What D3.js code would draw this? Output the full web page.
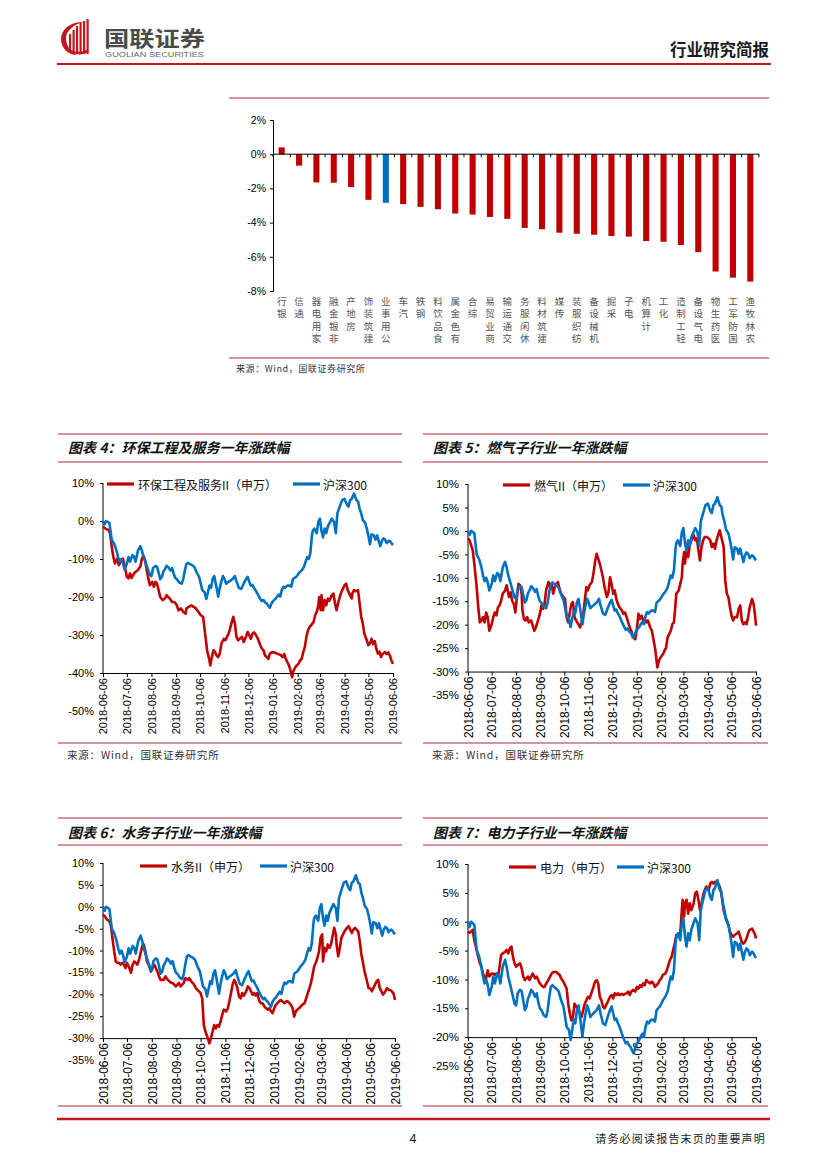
<!DOCTYPE html>
<html><head><meta charset="utf-8">
<script src="https://cdn.jsdelivr.net/npm/d3@7"></script>
<style>body{margin:0;background:#fff}svg{display:block}</style>
</head><body>
<svg id="page" width="827" height="1169"></svg>
<script>
// ---------------- DATA ----------------
const barCategories = ['银行','通信','家用电器','非银金融','房地产','建筑装饰','公用事业','汽车','钢铁','食品饮料','有色金属','综合','商业贸易','交通运输','休闲服务','建筑材料','传媒','纺织服装','机械设备','采掘','电子','计算机','化工','轻工制造','电气设备','医药生物','国防军工','农林牧渔'];
const barValues = [0.4,-0.67,-1.65,-1.67,-1.92,-2.67,-2.84,-2.92,-3.08,-3.22,-3.47,-3.53,-3.67,-3.78,-4.31,-4.39,-4.59,-4.65,-4.71,-4.78,-4.82,-5.08,-5.12,-5.31,-5.73,-6.86,-7.22,-7.45];
const barHighlight = '公用事业';
const barTicks = [2,0,-2,-4,-6,-8];

const monthTicks = ['2018-06-06','2018-07-06','2018-08-06','2018-09-06','2018-10-06','2018-11-06','2018-12-06','2019-01-06','2019-02-06','2019-03-06','2019-04-06','2019-05-06','2019-06-06'];
const startDate = '2018-06-06';

// days since 2018-06-06 / value in %
const hs300Days = [0,2,4,8,11,14,17,19,21,23,
25,27,30,32,34,37,39,41,44,47,
49,51,54,57,59,61,63,66,68,70,
72,74,76,78,80,82,85,87,89,91,
93,96,99,101,103,105,107,109,112,115,
118,121,125,128,130,132,134,136,138,140,
143,145,147,149,151,153,155,158,161,163,
166,168,171,174,177,180,182,184,186,188,
190,192,195,198,200,202,204,206,208,210,
212,214,217,219,221,223,225,227,229,232,
235,237,239,241,243,245,247,250,253,255,
257,259,261,263,264,266,269,271,273,275,
277,279,281,283,288,291,293,295,298,301,
304,307,309,311,313,316,319,321,323,325,
327,330,332,334,336,338,341,343,345,347,
349,351,353,355,357,360,362,364,365];
const hs300Values = [0,-0.9,0,-0.5,-5,-6,-7.8,-9.5,-10.7,-10,
-11,-12.7,-11.3,-9.5,-10.7,-9,-9.3,-10.7,-7.8,-6.6,
-7.8,-9.5,-11.2,-13,-14.2,-14.5,-12.4,-11.8,-12,-13.6,
-15.3,-14.8,-13.3,-12.7,-11.8,-12.1,-13,-12.4,-13.9,-15,
-15.3,-16.2,-16.5,-15.3,-13,-11.3,-11,-11.3,-11.6,-12.1,
-13.6,-14.7,-18.2,-18.8,-20.5,-18.8,-17,-17.6,-15.3,-14.5,
-17.6,-19.9,-17.6,-15.9,-14.5,-15.3,-16.5,-16,-15.6,-15.3,
-14.5,-15.9,-17.6,-17.9,-16.5,-15.3,-14.7,-15.9,-17,-16.8,
-17.6,-18.2,-19.4,-20.5,-21.1,-20.8,-21.4,-21.7,-22.3,-22.8,
-21.7,-21.1,-20.5,-19.9,-19.4,-19.9,-18.2,-17.3,-17.6,-17,
-17,-17.3,-15.3,-15,-14.7,-14.2,-13.6,-13,-12.1,-10.7,
-9.5,-10,-8.4,-3.8,-2.6,-2,-3.2,-0.3,0.6,-2.6,
-4.3,-2,-3.2,-1.4,0.6,-0.3,-3.2,2,3.8,5.5,
5.8,4.3,3.8,5.5,5.8,7.2,5.5,5.2,3.2,2,
0.3,-0.5,-2,-3.8,-6.1,-3.5,-3.8,-4.9,-3.8,-5.2,
-6.6,-5.2,-4.6,-4.9,-5.8,-5.2,-5.5,-6.1,-6.3];

const envDays = [0,3,7,9,11,13,15,18,20,22,
25,27,30,32,34,36,39,41,44,47,
49,51,53,55,57,59,62,64,66,68,
70,72,75,78,80,84,87,90,93,95,
98,101,104,105,108,111,114,117,120,123,
126,127,129,131,134,135,137,139,141,143,
145,147,149,152,154,156,158,160,162,164,
166,168,170,172,175,177,180,182,184,186,
188,190,193,195,198,200,202,204,206,208,
210,213,216,219,223,226,228,230,232,234,
236,238,239,242,244,246,248,250,252,254,
256,258,260,262,265,267,269,271,272,274,
275,277,279,281,283,285,288,290,292,294,
296,298,300,302,304,306,308,311,313,314,
316,318,321,323,325,327,329,332,334,336,
338,340,342,344,346,348,350,352,355,357,
359,361,363,365];
const envValues = [-1.5,-2,-2.4,-3.3,-6.8,-9.4,-11.2,-9.9,-11.6,-10.7,
-9.9,-11.5,-14.7,-15.1,-13.8,-15,-13.8,-13.4,-12.9,-12,
-9.9,-9.2,-10.3,-12.9,-15.1,-16.9,-16,-17.3,-16,-16.5,
-18.2,-20,-20.8,-20.4,-19.5,-20.4,-21.3,-21.3,-22.2,-23.5,
-23,-23.9,-24.4,-23,-22.6,-22.2,-22.6,-23,-23.9,-24.8,
-25.2,-27,-30.5,-34,-36.7,-38,-35.8,-34,-34.5,-35.4,
-35.8,-34.9,-32.3,-31,-31.4,-30.5,-29.7,-28.3,-26.6,-25.2,
-27,-30.5,-31.4,-31,-30.5,-31.8,-30.5,-29.2,-30,-31,
-29.7,-29.3,-30.2,-31,-32.7,-33.6,-34,-35.4,-35.8,-36.3,
-34.9,-34.5,-34.6,-34.9,-35.2,-35.8,-35,-36.3,-37.1,-38,
-39.3,-41.1,-39.8,-38.5,-38,-37.6,-36.7,-36.3,-34.5,-33.2,
-30.5,-28.8,-27.9,-27.4,-26.6,-24.8,-23.9,-22.2,-20,-23.5,
-19.5,-23.5,-20.8,-22.2,-20.4,-21,-19.5,-19.1,-21.7,-23.5,
-21.5,-20,-18.7,-17.8,-16.9,-16.5,-18.2,-19.5,-20.4,-19,
-18.2,-18.5,-18.2,-21.7,-25.2,-27,-29.7,-31.4,-32.7,-32.2,
-31,-32.4,-31.6,-33.6,-34.9,-34.4,-35.8,-35,-34.5,-35,
-34.6,-35.4,-36.7,-37.6];

const gasDays = [0,2,4,6,8,11,13,15,17,19,
21,23,25,27,30,32,34,36,38,40,
42,44,47,49,52,54,56,58,60,62,
64,66,68,69,71,73,75,77,80,82,
84,86,88,90,92,93,95,97,99,102,
104,106,108,110,112,114,116,118,121,123,
125,127,129,131,133,135,137,140,142,144,
146,148,150,152,154,157,159,161,163,165,
167,169,171,173,176,178,180,182,184,186,
188,190,192,195,197,199,201,203,205,207,
209,212,214,216,218,220,222,224,226,228,
231,233,235,237,239,240,242,244,247,249,
251,253,255,257,259,261,263,264,267,269,
271,272,274,275,277,279,281,283,286,288,
290,292,294,296,298,300,302,305,307,309,
311,313,315,317,319,321,324,326,328,330,
332,334,336,338,341,343,345,347,349,351,
353,355,357,360,362,364,365];
const gasValues = [-1.6,-2,-3.1,-4.1,-7,-12,-16.3,-19.5,-19.1,-18.4,
-19.5,-17.4,-18.4,-21.3,-19.9,-18.4,-17.4,-18,-16.3,-15.9,
-14.9,-13.4,-12.7,-11.6,-14.1,-13.1,-14.9,-15.6,-17.4,-14.1,
-11.3,-11.6,-13.4,-17,-18.8,-19.1,-18.4,-19.5,-19.1,-20.2,
-21.3,-20.6,-19.5,-18.4,-17,-15.9,-16.6,-15.6,-12.7,-10.9,
-12,-11.3,-13.4,-12,-11.3,-10.9,-12.4,-13.4,-14.1,-14.5,
-18.4,-19.5,-17.4,-15.6,-15.2,-18.4,-19.1,-19.9,-20.6,-19.5,
-17.7,-14.9,-12,-12.7,-11.6,-10.9,-9.1,-6.6,-4.9,-5.9,
-7,-8.4,-9.9,-12,-14.1,-13.1,-9.9,-11.3,-13.4,-12.7,
-14.5,-15.6,-16.3,-17,-17.7,-17.4,-18.4,-19.5,-20.6,-21.3,
-22.7,-23.1,-20.9,-17.7,-18.8,-18.1,-19.1,-18.8,-19.5,-19.1,
-20.6,-21.3,-23.1,-24.9,-27.7,-29.1,-27.7,-27,-26.3,-25.6,
-24.9,-22.7,-22,-21.3,-19.9,-19.5,-15.6,-13.4,-12.7,-11.3,
-9.9,-7,-4.5,-7,-3.4,-5.6,-3.1,-2,-0.9,-2,
-1.6,-4.1,-6.3,-3.4,-2,-1.3,-1.3,-1.6,-2,-3.4,
-2.7,-3.8,-2,-0.9,0.1,-1.3,-3.4,-10.6,-13.4,-14.1,
-16.3,-18.1,-19.1,-18.4,-18.4,-16.6,-15.9,-19.1,-19.9,-19.5,
-19.9,-18.4,-16.3,-14.5,-15.6,-18.4,-20.2];

const waterDays = [0,2,5,8,10,12,14,16,18,20,
22,24,26,28,30,33,35,37,39,41,
43,45,47,49,51,53,55,58,60,62,
64,66,68,70,72,74,76,78,81,83,
85,87,89,91,93,95,97,99,101,103,
106,108,110,112,114,116,118,120,122,124,
125,126,128,131,133,135,137,139,141,143,
145,147,149,151,154,156,158,160,162,164,
166,168,170,172,174,176,179,181,183,185,
187,189,191,193,195,197,199,202,204,206,
208,210,212,214,216,218,220,222,224,227,
229,231,233,235,237,239,241,243,245,247,
249,252,254,256,258,260,262,264,266,268,
270,272,274,275,277,279,281,283,285,287,
289,291,292,294,296,298,300,302,305,307,
309,311,313,315,317,319,321,323,325,327,
330,332,334,336,338,340,342,344,346,348,
350,353,355,357,359,361,363,365];
const waterValues = [-1.8,-2.1,-2.9,-3.3,-4.4,-7.5,-10.2,-12.5,-12.8,-12.8,
-13.2,-12.8,-13.2,-14,-12.8,-14,-15.1,-13.2,-12.5,-12.8,
-13.2,-12.1,-10.6,-9,-8.6,-10.2,-12.5,-13.6,-14.8,-14,
-13.2,-14,-14.8,-15.9,-16.7,-16.7,-16.7,-15.9,-16.7,-17,
-17.4,-17.4,-17.8,-18.2,-17.8,-17.4,-18.2,-17.8,-17.4,-16.3,
-16.7,-16.3,-17,-17.4,-17.8,-18.6,-19,-19.3,-19.7,-20.9,
-23.9,-27,-28.5,-30,-31.2,-30,-28.5,-27,-27.8,-27,
-27.4,-26.2,-24.7,-23.5,-23.9,-23.2,-21.6,-19.7,-17.8,-16.7,
-17.4,-18.6,-20.5,-20.9,-19.7,-20.3,-19.3,-18.2,-18.6,-19.3,
-20.1,-19.7,-20.3,-19.7,-21.3,-22,-22,-22.8,-23.2,-23.5,
-23.2,-23.9,-24.3,-23.2,-22.4,-22,-21.6,-21.3,-21.6,-22,
-21.6,-21.6,-22,-22.4,-23.2,-25.1,-23.9,-23.5,-23.2,-22.8,
-22.4,-22,-20.9,-19.7,-18.6,-17.4,-15.5,-13.6,-12.8,-11.7,
-10.2,-7.1,-6.3,-12.5,-9.4,-10.2,-8.6,-9.4,-8.6,-6.7,
-4.8,-6.3,-8.6,-11.3,-9.4,-7.1,-6.3,-5.6,-4.8,-4.4,
-5.2,-6,-5.2,-4.8,-5.2,-5.6,-7.9,-10.9,-12.8,-14.8,
-17,-18.6,-18.6,-19.3,-18.6,-17.8,-17,-16.7,-18.6,-19.3,
-20.1,-19.3,-18.6,-19,-19,-19.3,-19.7,-21.3];

const powerDays = [0,2,4,6,8,11,13,15,17,19,
21,23,25,27,30,32,34,36,38,40,
42,44,47,49,51,53,55,57,59,61,
63,66,68,70,72,74,76,78,80,82,
85,87,89,91,93,95,97,99,102,104,
106,108,110,112,114,116,118,121,123,125,
127,129,131,133,135,137,140,142,144,146,
148,150,152,154,157,159,161,163,165,167,
169,171,173,176,178,180,182,184,186,188,
190,192,195,197,199,201,203,205,207,209,
212,214,216,218,220,222,224,226,228,231,
233,235,237,239,241,243,245,247,250,252,
254,256,258,260,262,264,267,269,271,272,
274,275,277,279,281,283,286,288,290,292,
294,296,298,300,302,305,307,309,311,313,
315,317,319,321,324,326,328,330,332,334,
336,338,341,343,345,347,349,351,353,355,
357,360,362,364,365];
const powerValues = [-1.7,-1.9,-1.7,-1.4,-3.2,-4.9,-6.1,-7.2,-7.8,-9,
-9.5,-9.8,-8.4,-9.5,-9,-9,-9.2,-9,-9.5,-7.8,
-5.8,-5.5,-5.2,-4.9,-5.5,-4.6,-4.3,-6.1,-7.2,-7.8,
-7.5,-7.2,-8.1,-9.5,-10.1,-9.8,-9.5,-10.1,-9.5,-9,
-9.8,-9.5,-10.1,-10.7,-11,-11.3,-11.3,-10.7,-10.1,-9.5,
-9,-8.7,-8.7,-8.7,-9,-9.2,-9.8,-10.4,-11,-11.6,
-14.2,-15.9,-17.1,-16.5,-14.2,-14.7,-15.3,-15.9,-16.5,-15.3,
-14.2,-13.6,-13,-13.3,-12.1,-11.3,-10.4,-10.1,-10.7,-13,
-13.6,-14.7,-15,-14.2,-13.6,-13,-12.7,-13.3,-12.4,-12.7,
-12.4,-12.7,-12.5,-12.7,-12.5,-12.4,-12.1,-12.7,-12.1,-11.8,
-12.1,-11.3,-11.6,-11,-11.3,-10.7,-11,-10.1,-10.4,-10.7,
-10.4,-10.7,-11.3,-11,-10.7,-10.1,-9.8,-9.2,-9,-8.4,
-7.5,-6.6,-6.1,-4.9,-3.8,-2.3,-2.6,-2,2,3.8,
0.9,3.2,3.8,1.4,3.2,2,3.2,4.9,5.2,3.8,
2,3.2,4.6,5.5,6.1,5.5,6.6,6.9,6.6,6.9,
6.9,6.6,6.1,4.9,2,0.9,0.3,-0.6,-1.7,-2.3,
-2.6,-2.3,-2,-1.7,-2.6,-3.5,-3.8,-3.5,-2.9,-2,
-1.4,-1.2,-1.7,-2.3,-2.9];

const hs300Name = '沪深300';
const chartTitles = ['图表 4：环保工程及服务一年涨跌幅','图表 5：燃气子行业一年涨跌幅','图表 6：水务子行业一年涨跌幅','图表 7：电力子行业一年涨跌幅'];
const seriesNames = ['环保工程及服务II（申万）','燃气II（申万）','水务II（申万）','电力（申万）'];
const ticks4 = [10,0,-10,-20,-30,-40,-50];
const ticks5 = [10,5,0,-5,-10,-15,-20,-25,-30,-35];
const ticks6 = [10,5,0,-5,-10,-15,-20,-25,-30,-35];
const ticks7 = [10,5,0,-5,-10,-15,-20,-25];
const sourceText = '来源：Wind，国联证券研究所';

// ---------------- DRAW ----------------
const svg = d3.select('#page');
const CJK = "'Noto Sans CJK SC','Noto Sans',sans-serif";
const LAT = "'Liberation Sans',Arial,sans-serif";
const RED = '#C00000', BLUE = '#0070C0', RULE = '#B3283E', HEAD = '#C4161C';

function hline(x1, x2, y, color, w) {
  svg.append('line').attr('x1', x1).attr('x2', x2).attr('y1', y).attr('y2', y)
    .attr('stroke', color).attr('stroke-width', w);
}

// ---- header ----
const logo = svg.append('g');
logo.append('clipPath').attr('id', 'lc').append('circle').attr('cx', 77).attr('cy', 38).attr('r', 16);
logo.append('path').attr('d', 'M84,22 C70,21 61,30 61,39 C61,48 68,55 77,55 C70,51 66,45 66,38 C66,31 74,24 84,22 Z').attr('fill', HEAD);
const stripes = [[69,34],[72.5,30],[76,26],[79.5,23],[83,21],[86.5,19]];
stripes.forEach(s => {
  logo.append('rect').attr('x', s[0]).attr('y', s[1]).attr('width', 2.2).attr('height', 54 - s[1])
    .attr('fill', HEAD).attr('clip-path', s[0] > 82 ? null : 'url(#lc)');
});
logo.append('path').attr('d', 'M66,46 C70,54 80,57 88,52 L88,49 C80,54 71,52 66,46 Z').attr('fill', HEAD);
svg.append('text').attr('x', 104).attr('y', 46).text('国联证券')
  .attr('font-family', CJK).attr('font-size', 21).attr('font-weight', 700).attr('fill', '#4a4a4a')
  .attr('textLength', 101).attr('lengthAdjust', 'spacingAndGlyphs');
svg.append('text').attr('x', 105).attr('y', 56.5).text('GUOLIAN SECURITIES')
  .attr('font-family', LAT).attr('font-size', 6.8).attr('fill', '#666')
  .attr('textLength', 99).attr('lengthAdjust', 'spacingAndGlyphs');
svg.append('text').attr('x', 769).attr('y', 56).attr('text-anchor', 'end').text('行业研究简报')
  .attr('font-family', CJK).attr('font-size', 16.5).attr('font-weight', 700).attr('fill', '#1a1a1a');
hline(57, 771, 64, HEAD, 2);

// ---- bar chart ----
hline(229, 769, 98, RULE, 1.2);
const bx = d3.scaleBand().domain(barCategories).range([273, 759]).paddingInner(0.65).paddingOuter(0.325);
const by = d3.scaleLinear().domain([-8, 2]).range([291, 120]);
const barG = svg.append('g');
barG.selectAll('rect').data(barCategories).join('rect')
  .attr('x', d => bx(d)).attr('width', bx.bandwidth())
  .attr('y', (d, i) => by(Math.max(0, barValues[i])))
  .attr('height', (d, i) => Math.abs(by(barValues[i]) - by(0)))
  .attr('fill', d => d === barHighlight ? BLUE : RED);
const byAxis = svg.append('g').attr('transform', 'translate(273,0)')
  .call(d3.axisLeft(by).tickValues(barTicks).tickFormat(d => d + '%').tickSize(3).tickPadding(4));
byAxis.select('.domain').attr('stroke', '#000');
byAxis.selectAll('text').attr('font-family', LAT).attr('font-size', 10.5).attr('fill', '#000');
// zero line with category ticks
const zeroY = by(0);
svg.append('line').attr('x1', 273).attr('x2', 759).attr('y1', zeroY).attr('y2', zeroY).attr('stroke', '#000').attr('stroke-width', 1);
const step = bx.step();
d3.range(barCategories.length + 1).forEach(i => {
  const xx = 273 + i * step;
  svg.append('line').attr('x1', xx).attr('x2', xx).attr('y1', zeroY).attr('y2', zeroY + 3).attr('stroke', '#000');
});
// stacked category labels (read bottom to top)
barCategories.forEach(c => {
  const chars = Array.from(c).reverse();
  const cx = bx(c) + bx.bandwidth() / 2;
  chars.forEach((ch, k) => {
    svg.append('text').attr('x', cx).attr('y', 301 + k * 12.3).attr('text-anchor', 'middle')
      .attr('dominant-baseline', 'central').text(ch)
      .attr('font-family', CJK).attr('font-size', 9.5).attr('fill', '#555');
  });
});
hline(229, 769, 358, RULE, 1.2);
svg.append('text').attr('x', 236).attr('y', 372).text(sourceText)
  .attr('font-family', CJK).attr('font-size', 9).attr('fill', '#333').attr('letter-spacing', 0.6);

// ---- line charts ----
const parse = d3.utcParse('%Y-%m-%d');
const t0 = parse(startDate);
const tickDates = monthTicks.map(parse);
const hs300 = hs300Days.map((d, i) => ({ date: d3.utcDay.offset(t0, d), v: hs300Values[i] }));

function lineChart(c) {
  const g = svg.append('g');
  hline(c.ruleL, c.ruleR, c.ruleTop, RULE, 1.2);
  hline(c.ruleL, c.ruleR, c.ruleMid, RULE, 1.2);
  g.append('text').attr('x', c.titleX).attr('y', c.titleY).text(c.title)
    .attr('font-family', CJK).attr('font-size', 14).attr('font-weight', 700)
    .attr('font-style', 'italic').attr('fill', '#111');

  const x = d3.scaleUtc().domain([tickDates[0], tickDates[tickDates.length - 1]]).range([c.x0, c.x1]);
  const y = d3.scaleLinear().domain([c.yMin, c.yMax]).range([c.yMinPx, c.yMaxPx]);
  const axisY = y(c.axisAt);

  // y axis
  const ya = g.append('g').attr('transform', `translate(${c.x0},0)`)
    .call(d3.axisLeft(y).tickValues(c.ticks).tickFormat(d => d + '%').tickSize(3).tickPadding(6));
  ya.select('.domain').remove();
  ya.selectAll('.tick').filter(d => d < c.axisAt).select('line').remove();
  ya.selectAll('line').attr('stroke', '#000');
  ya.selectAll('text').attr('font-family', LAT).attr('font-size', c.yFont).attr('fill', '#000');
  g.append('line').attr('x1', c.x0).attr('x2', c.x0).attr('y1', y(c.yMax)).attr('y2', axisY).attr('stroke', '#000');

  // x axis
  const xa = g.append('g').attr('transform', `translate(0,${axisY})`)
    .call(d3.axisBottom(x).tickValues(tickDates).tickFormat(d3.utcFormat('%Y-%m-%d')).tickSize(4).tickSizeOuter(0));
  xa.select('.domain').attr('stroke', '#000');
  xa.selectAll('line').attr('stroke', '#000');
  xa.selectAll('text').attr('transform', 'rotate(-90)').attr('text-anchor', 'end')
    .attr('x', -5).attr('y', 0).attr('dy', '0.35em')
    .attr('font-family', LAT).attr('font-size', c.xFont).attr('fill', '#000');

  const red = c.days.map((d, i) => ({ date: d3.utcDay.offset(t0, d), v: c.values[i] }));
  const line = d3.line().x(d => x(d.date)).y(d => y(d.v));
  g.append('path').datum(red).attr('d', line).attr('fill', 'none').attr('stroke', RED)
    .attr('stroke-width', 2.6).attr('stroke-linejoin', 'round');
  g.append('path').datum(hs300).attr('d', line).attr('fill', 'none').attr('stroke', BLUE)
    .attr('stroke-width', 2.6).attr('stroke-linejoin', 'round');

  // legend
  const ly = c.legY;
  g.append('line').attr('x1', c.leg[0]).attr('x2', c.leg[0] + 27).attr('y1', ly).attr('y2', ly)
    .attr('stroke', RED).attr('stroke-width', 3.2);
  g.append('text').attr('x', c.leg[0] + 31).attr('y', ly).attr('dominant-baseline', 'central').text(c.name)
    .attr('font-family', CJK).attr('font-size', 12).attr('fill', '#111');
  g.append('line').attr('x1', c.leg[1]).attr('x2', c.leg[1] + 27).attr('y1', ly).attr('y2', ly)
    .attr('stroke', BLUE).attr('stroke-width', 3.2);
  g.append('text').attr('x', c.leg[1] + 30).attr('y', ly).attr('dominant-baseline', 'central').text(hs300Name)
    .attr('font-family', CJK).attr('font-size', 12).attr('fill', '#111');

  if (c.sourceY) {
    hline(c.ruleL, c.ruleR, c.sourceRule, RULE, 1.2);
    g.append('text').attr('x', c.titleX - 1).attr('y', c.sourceY).text(sourceText)
      .attr('font-family', CJK).attr('font-size', 10.5).attr('fill', '#333').attr('letter-spacing', 0.8);
  }
  if (c.bottomRule) hline(c.ruleL, c.ruleR, c.bottomRule, RULE, 1.2);
}

lineChart({ ruleL: 58, ruleR: 402, ruleTop: 434, ruleMid: 462, titleX: 68, titleY: 453, title: chartTitles[0],
  x0: 103, x1: 393, yMin: -50, yMax: 10, yMinPx: 711, yMaxPx: 483, axisAt: -40, ticks: ticks4, yFont: 11, xFont: 11,
  days: envDays, values: envValues, name: seriesNames[0], legY: 484, leg: [107, 293], sourceRule: 743, sourceY: 759 });
lineChart({ ruleL: 423, ruleR: 768, ruleTop: 434, ruleMid: 462, titleX: 433, titleY: 453, title: chartTitles[1],
  x0: 468, x1: 756, yMin: -35, yMax: 10, yMinPx: 695, yMaxPx: 484, axisAt: -30, ticks: ticks5, yFont: 11.5, xFont: 12,
  days: gasDays, values: gasValues, name: seriesNames[1], legY: 485, leg: [503, 623], sourceRule: 743, sourceY: 759 });
lineChart({ ruleL: 58, ruleR: 402, ruleTop: 818, ruleMid: 845, titleX: 68, titleY: 838, title: chartTitles[2],
  x0: 103, x1: 395, yMin: -35, yMax: 10, yMinPx: 1060, yMaxPx: 863, axisAt: -30, ticks: ticks6, yFont: 11, xFont: 12,
  days: waterDays, values: waterValues, name: seriesNames[2], legY: 866, leg: [140, 260], bottomRule: 1106 });
lineChart({ ruleL: 423, ruleR: 768, ruleTop: 818, ruleMid: 845, titleX: 433, titleY: 838, title: chartTitles[3],
  x0: 468, x1: 756, yMin: -25, yMax: 10, yMinPx: 1066, yMaxPx: 864, axisAt: -20, ticks: ticks7, yFont: 11.5, xFont: 12,
  days: powerDays, values: powerValues, name: seriesNames[3], legY: 867, leg: [509, 617], bottomRule: 1106 });

// ---- footer ----
hline(57, 770, 1119, HEAD, 2.5);
svg.append('text').attr('x', 413).attr('y', 1143).attr('text-anchor', 'middle').text('4')
  .attr('font-family', LAT).attr('font-size', 12).attr('fill', '#111');
svg.append('text').attr('x', 766).attr('y', 1143).attr('text-anchor', 'end').text('请务必阅读报告末页的重要声明')
  .attr('font-family', CJK).attr('font-size', 11).attr('fill', '#222').attr('letter-spacing', 1.2);
</script>
</body></html>
